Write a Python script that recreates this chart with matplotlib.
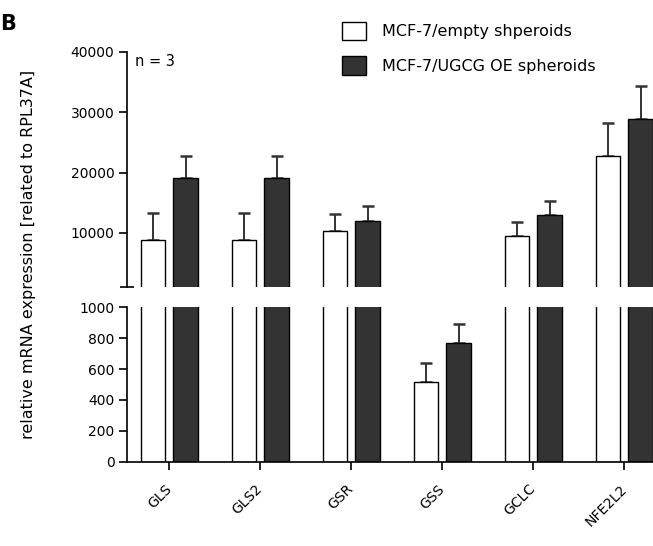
import matplotlib
matplotlib.use("Agg")
import matplotlib.pyplot as plt
from matplotlib.patches import Patch
import numpy as np

# Expression data (mean and SD, n = 3)
genes = ["GLS", "GLS2", "GSR", "GSS", "GCLC", "NFE2L2"]
empty_mean = [8780, 8780, 10260, 514, 9500, 22700]
empty_sd = [4450, 4450, 2810, 127, 2250, 5500]
oe_mean = [19080, 19080, 11910, 767, 13020, 28810]
oe_sd = [3730, 3730, 2480, 125, 2310, 5500]

series_labels = ["MCF-7/empty shperoids", "MCF-7/UGCG OE spheroids"]
top_ticks = [10000, 20000, 30000, 40000]
bottom_ticks = [0, 200, 400, 600, 800, 1000]
BREAK = 1000

plt.rcParams["font.family"] = ["DejaVu Sans"]
W, H = 653, 546
fig = plt.figure(figsize=(W / 100, H / 100), dpi=100)

left = 127 / W
width = 1.0 - left
ax_top = fig.add_axes([left, 1 - 287.3 / H, width, (287.3 - 51.7) / H])
ax_bot = fig.add_axes([left, 1 - 461.7 / H, width, (461.7 - 307.3) / H])

x = np.arange(len(genes))
bw = 0.27
off = 0.178
dark = "#333333"


def draw_errors(ax, xs, means, sds, keep):
    m = np.array(means, float)
    s = np.array(sds, float)
    sel = keep(m + s)
    if sel.any():
        ax.errorbar(xs[sel], m[sel], yerr=[np.zeros(sel.sum()), s[sel]], fmt="none",
                    ecolor="#333333", elinewidth=1.4, capsize=4, capthick=1.8, zorder=1)


for ax, keep in ((ax_top, lambda v: v > BREAK), (ax_bot, lambda v: v <= BREAK)):
    ax.bar(x - off, empty_mean, bw, color="white", edgecolor="black", linewidth=1.0, zorder=2)
    ax.bar(x + off, oe_mean, bw, color=dark, edgecolor="black", linewidth=1.0, zorder=2)
    draw_errors(ax, x - off, empty_mean, empty_sd, keep)
    draw_errors(ax, x + off, oe_mean, oe_sd, keep)
    ax.set_xlim(-0.465, 5.315)
    for s in ("top", "right"):
        ax.spines[s].set_visible(False)
    ax.spines["left"].set_linewidth(1.2)
    ax.tick_params(axis="y", direction="out", length=6, width=1.2, labelsize=10, pad=3)

# upper segment
ax_top.set_ylim(BREAK, 40000)
ax_top.spines["bottom"].set_visible(False)
ax_top.set_xticks([])
ax_top.set_yticks(top_ticks)
ax_top.set_yticks([BREAK], minor=True)
ax_top.tick_params(axis="y", which="minor", direction="inout", length=10, width=1.2)

# lower segment
ax_bot.set_ylim(0, BREAK)
ax_bot.spines["bottom"].set_linewidth(1.2)
ax_bot.set_yticks(bottom_ticks)
ax_bot.set_yticks([BREAK], minor=True)
ax_bot.tick_params(axis="y", which="minor", direction="inout", length=10, width=1.2)
ax_bot.set_xticks(x)
ax_bot.set_xticklabels(genes, rotation=45, ha="right", va="center",
                       rotation_mode="anchor", fontsize=10)
ax_bot.tick_params(axis="x", direction="out", length=6, width=1.2, pad=12)

fig.text(135 / W, 1 - 62 / H, "n = 3", ha="left", va="center", fontsize=10.5)

fig.text(29 / W, 1 - 254 / H, "relative mRNA expression [related to RPL37A]",
         rotation=90, ha="center", va="center", fontsize=11.5)
fig.text(0, 1 - 24 / H, "B", ha="left", va="center", fontsize=15, fontweight="bold")

handles = [Patch(facecolor="white", edgecolor="black", linewidth=1.0),
           Patch(facecolor=dark, edgecolor="black", linewidth=1.0)]
fig.legend(handles, series_labels, loc="upper left",
           bbox_to_anchor=(341.7 / W, 1 - 21.7 / H), frameon=False,
           fontsize=11.5, handlelength=1.55, handleheight=1.4,
           handletextpad=1.0, labelspacing=1.0, borderpad=0, borderaxespad=0)

fig.savefig("out.png", dpi=100)
